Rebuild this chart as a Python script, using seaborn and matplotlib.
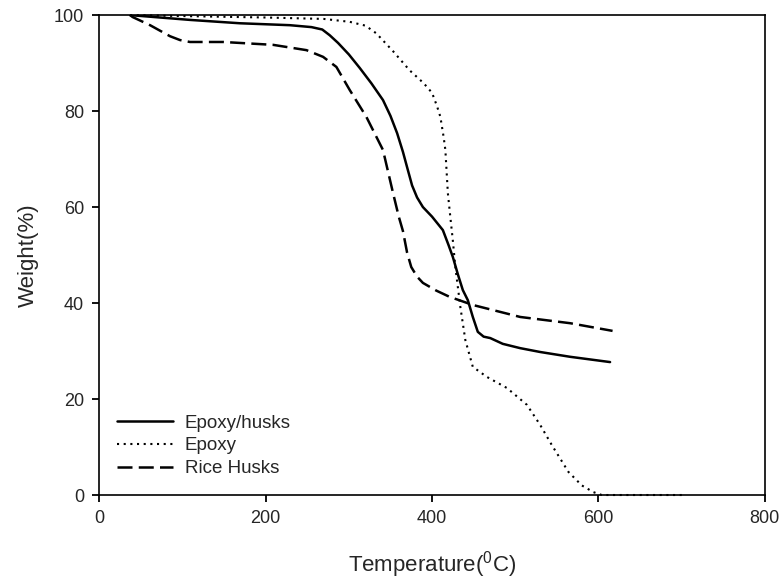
import numpy as np
import pandas as pd
import matplotlib
matplotlib.use('Agg')
import matplotlib.pyplot as plt
import seaborn as sns

# values (temperature in C, weight in %)
hybrid_t = [37, 109, 169, 229, 255, 268, 277, 287, 300, 313, 327, 341, 350, 358, 365, 370, 376, 382, 389, 400, 413,
            420, 425, 431, 437, 443, 449, 455, 462, 470, 485, 506, 530, 566, 614]
hybrid_w = [100, 99, 98.3, 97.9, 97.5, 97, 95.8, 94.2, 91.8, 89, 85.8, 82.3, 79, 75.4, 71.5, 68.3, 64.5, 62, 60, 58, 55.2,
            52, 49.6, 46, 42.7, 40.6, 37.1, 34, 33, 32.7, 31.5, 30.6, 29.8, 28.8, 27.7]

epoxy_t = [37, 100, 200, 270, 301, 320, 333, 353, 373, 390, 400, 406, 410, 414, 416, 419, 421.5, 425, 428, 434,
           440, 449, 466, 490, 514, 530, 544, 564, 580, 594, 604, 702]
epoxy_w = [100, 99.8, 99.5, 99.2, 98.6, 97.8, 96.2, 92.5, 88.5, 85.8, 83.8, 81, 78.8, 74.5, 71.9, 62.9, 58.7, 53, 47.5, 39.2,
           32.3, 26.7, 24.6, 22.3, 18.8, 14.6, 10.4, 4.8, 2, 0.6, 0, 0]

husk_t = [37, 40, 61, 85, 97, 109, 149, 209, 249, 269, 285, 301, 321, 341, 353, 360, 365, 370, 375, 382, 389,
          405, 421, 449, 506, 566, 617]
husk_w = [100, 99.6, 97.9, 95.6, 94.8, 94.4, 94.4, 93.8, 92.7, 91.3, 89.2, 84.4, 78.8, 71.9, 63, 58, 55, 50.5, 47.5, 45.5, 44.2,
          42.6, 41.3, 39.6, 37.1, 35.8, 34.2]

sns.set_style('ticks')
plt.rcParams['font.family'] = ['Liberation Sans', 'DejaVu Sans']
plt.rcParams['mathtext.fontset'] = 'custom'
plt.rcParams['mathtext.rm'] = 'Liberation Sans'
plt.rcParams['mathtext.it'] = 'Liberation Sans'

fig = plt.figure(figsize=(7.82, 5.81), dpi=100)
ax = fig.add_axes([0.127, 0.148, 0.851, 0.826])

sns.lineplot(x=hybrid_t, y=hybrid_w, ax=ax, color='black', lw=1.8, label='Epoxy/husks')
sns.lineplot(x=epoxy_t, y=epoxy_w, ax=ax, color='black', lw=1.5, ls=(0, (1, 2.2)), label='Epoxy',
             clip_on=False, zorder=5)
sns.lineplot(x=husk_t, y=husk_w, ax=ax, color='black', lw=1.8, ls=(0, (6, 2.5)), label='Rice Husks')

ax.set_xlim(0, 800)
ax.set_ylim(0, 100)
ax.set_xticks([0, 200, 400, 600, 800])
ax.set_yticks([0, 20, 40, 60, 80, 100])
ax.set_xlabel('Temperature($^0$C)', fontsize=16, labelpad=16)
ax.set_ylabel('Weight(%)', fontsize=16, labelpad=11)
ax.tick_params(labelsize=13, length=5, width=1.3, direction='out', color='black', pad=6)
for s in ax.spines.values():
    s.set_linewidth(1.2)
    s.set_color('black')

leg = ax.legend(loc='lower left', frameon=False, fontsize=13.5, handlelength=3.0,
                handletextpad=0.6, labelspacing=0.3, borderaxespad=0.55)

fig.savefig('out.png', dpi=100)
